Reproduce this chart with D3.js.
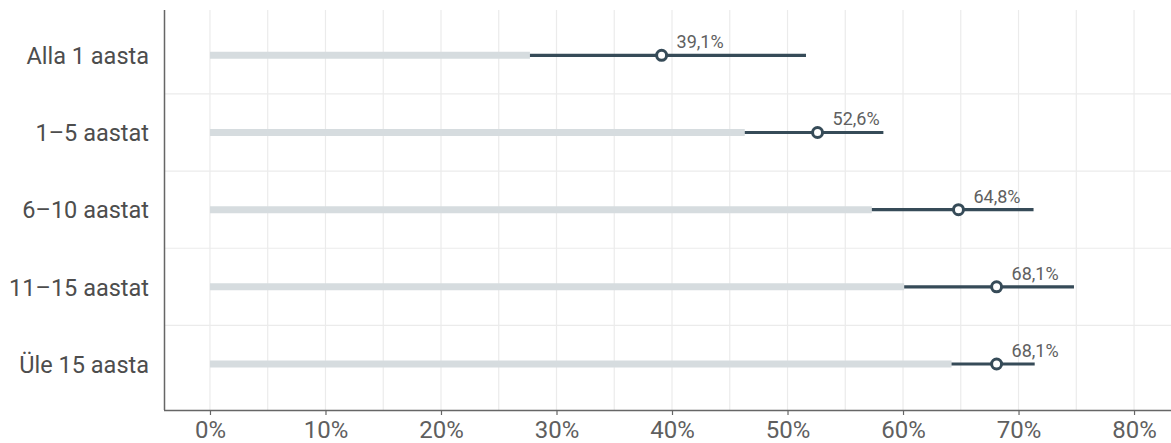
<!DOCTYPE html>
<html>
<head>
<meta charset="utf-8">
<script src="https://cdn.jsdelivr.net/npm/d3@7"></script>
<style>
  html, body { margin: 0; padding: 0; background: #fff; }
  svg { display: block; font-family: Roboto, "Liberation Sans", sans-serif; }
</style>
</head>
<body>
<svg id="chart" width="1171" height="443"></svg>
<script>
// ---- data ----
const categories = ["Alla 1 aasta", "1–5 aastat", "6–10 aastat", "11–15 aastat", "Üle 15 aasta"];
const values     = [39.1, 52.6, 64.8, 68.1, 68.1];
const lower      = [27.7, 46.3, 57.3, 60.1, 64.2];
const upper      = [51.6, 58.3, 71.3, 74.8, 71.4];
const valueLabels = ["39,1%", "52,6%", "64,8%", "68,1%", "68,1%"];
const xTicks      = [0, 10, 20, 30, 40, 50, 60, 70, 80];
const xTickLabels = ["0%", "10%", "20%", "30%", "40%", "50%", "60%", "70%", "80%"];
const xMinor      = [5, 15, 25, 35, 45, 55, 65, 75];

// ---- layout ----
const plotL = 164, plotR = 1171, plotT = 10, plotB = 410;

const svg = d3.select("#chart");

const x = d3.scaleLinear().domain([-3.98, 83.2]).range([plotL, plotR]);
const y = d3.scalePoint().domain(categories).range([55.3, 364]);
const step = y.step();

const darkCol = "#364b58";
const grayBar = "#d6dcdf";
const gridCol = "#ebebeb";

// grid: vertical
svg.append("g").selectAll("line")
  .data(xTicks.concat(xMinor))
  .join("line")
  .attr("x1", d => x(d)).attr("x2", d => x(d))
  .attr("y1", plotT).attr("y2", plotB)
  .attr("stroke", gridCol).attr("stroke-width", 1.2);

// grid: horizontal (between categories)
svg.append("g").selectAll("line")
  .data(categories.slice(1))
  .join("line")
  .attr("x1", plotL).attr("x2", plotR)
  .attr("y1", d => y(d) - step / 2).attr("y2", d => y(d) - step / 2)
  .attr("stroke", gridCol).attr("stroke-width", 1.2);

const rows = categories.map((c, i) => ({ c, v: values[i], lo: lower[i], hi: upper[i], lab: valueLabels[i] }));

// gray background bars 0 -> lower
svg.append("g").selectAll("line")
  .data(rows).join("line")
  .attr("x1", x(0)).attr("x2", d => x(d.lo))
  .attr("y1", d => y(d.c)).attr("y2", d => y(d.c))
  .attr("stroke", grayBar).attr("stroke-width", 7);

// CI lines
svg.append("g").selectAll("line")
  .data(rows).join("line")
  .attr("x1", d => x(d.lo)).attr("x2", d => x(d.hi))
  .attr("y1", d => y(d.c)).attr("y2", d => y(d.c))
  .attr("stroke", darkCol).attr("stroke-width", 3.2);

// points
svg.append("g").selectAll("circle")
  .data(rows).join("circle")
  .attr("cx", d => x(d.v)).attr("cy", d => y(d.c))
  .attr("r", 5)
  .attr("fill", "#fff").attr("stroke", darkCol).attr("stroke-width", 3);

// value labels
svg.append("g").selectAll("text")
  .data(rows).join("text")
  .attr("x", d => x(d.v) + 15).attr("y", d => y(d.c) - 7)
  .attr("font-size", 18).attr("fill", "#606060")
  .text(d => d.lab);

// axes
const xAxis = d3.axisBottom(x).tickValues(xTicks)
  .tickFormat((d, i) => xTickLabels[i]).tickSize(5).tickSizeOuter(0);
const gx = svg.append("g").attr("transform", `translate(0,${plotB})`).call(xAxis);
gx.select(".domain").attr("stroke", "#666").attr("stroke-width", 1.5)
  .attr("d", `M${plotL},0.5H${plotR}`);
gx.selectAll(".tick line").attr("stroke", "#666").attr("stroke-width", 1.2);
gx.selectAll(".tick text").attr("font-size", 24).attr("fill", "#5f5f5f")
  .attr("font-family", "Roboto, sans-serif").attr("dy", "0.71em").attr("y", 11);

const yAxis = d3.axisLeft(y).tickSize(0).tickPadding(15);
const gy = svg.append("g").attr("transform", `translate(${plotL},0)`).call(yAxis);
gy.select(".domain").attr("stroke", "#666").attr("stroke-width", 1.5)
  .attr("d", `M0.5,${plotT}V${plotB}`);
gy.selectAll(".tick text").attr("font-size", 23.5).attr("fill", "#4d4d4d")
  .attr("font-family", "Roboto, sans-serif").attr("dy", "0.35em");
</script>
</body>
</html>
